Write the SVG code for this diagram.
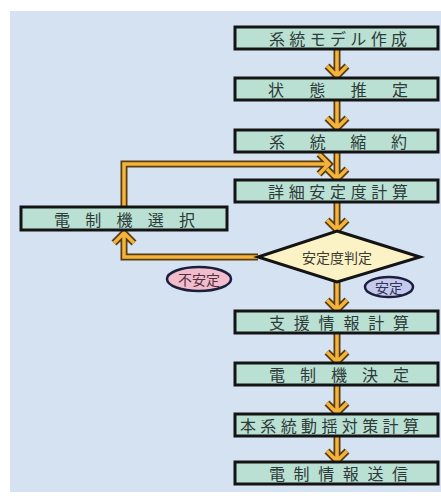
<svg xmlns="http://www.w3.org/2000/svg" width="441" height="500" viewBox="0 0 441 500">
<defs>
<style>
.box{fill:#b9e0d3;stroke:#141414;stroke-width:3}
.bt{font-family:"Noto Sans CJK JP","Noto Sans CJK SC",sans-serif;font-size:16px;fill:#2e3a38;text-anchor:start;dominant-baseline:central}
.dia{fill:#fbf2c6;stroke:#141414;stroke-width:3}
.out{fill:none;stroke:#5a3c12;stroke-width:7;stroke-linejoin:miter;stroke-linecap:butt}
.in{fill:none;stroke:#f4b43c;stroke-width:3.5;stroke-linejoin:miter;stroke-linecap:butt}
.lbl{font-family:"Noto Sans CJK JP","Noto Sans CJK SC",sans-serif;font-size:14px;text-anchor:middle;dominant-baseline:central}
</style>
</defs>
<rect x="0" y="0" width="441" height="500" fill="#ffffff"/>
<rect x="10" y="11" width="431" height="481" fill="#d5e2f2"/>

<g id="connectors">
<path class="out" d="M337 50V76M327 66L337 76L347 66"/>
<path class="out" d="M337 101V128M327 118L337 128L347 118"/>
<path class="out" d="M337 153V179M327 169L337 179L347 169"/>
<path class="out" d="M337 203V230M327 220L337 230L347 220"/>
<path class="out" d="M337 282V310M327 300L337 310L347 300"/>
<path class="out" d="M337 334V362M327 352L337 362L347 352"/>
<path class="out" d="M337 386V413M327 403L337 413L347 403"/>
<path class="out" d="M337 437V461M327 451L337 461L347 451"/>
<path class="out" d="M258 257H124V233M114 243L124 233L134 243"/>
<path class="out" d="M124 206V164H329M319 154L329 164L319 174"/>
<path class="in" d="M337 50V76M327 66L337 76L347 66"/>
<path class="in" d="M337 101V128M327 118L337 128L347 118"/>
<path class="in" d="M337 153V179M327 169L337 179L347 169"/>
<path class="in" d="M337 203V230M327 220L337 230L347 220"/>
<path class="in" d="M337 282V310M327 300L337 310L347 300"/>
<path class="in" d="M337 334V362M327 352L337 362L347 352"/>
<path class="in" d="M337 386V413M327 403L337 413L347 403"/>
<path class="in" d="M337 437V461M327 451L337 461L347 451"/>
<path class="in" d="M258 257H124V233M114 243L124 233L134 243"/>
<path class="in" d="M124 206V164H329M319 154L329 164L319 174"/>
</g>

<g id="n1"><rect class="box" x="235" y="27" width="203" height="22"/><text class="bt" x="269" y="38" textLength="138" lengthAdjust="spacing">系統モデル作成</text></g>
<g id="n2"><rect class="box" x="235" y="78" width="203" height="22"/><text class="bt" x="268" y="89" textLength="140" lengthAdjust="spacing">状態推定</text></g>
<g id="n3"><rect class="box" x="235" y="130" width="203" height="22"/><text class="bt" x="269" y="141" textLength="138" lengthAdjust="spacing">系統縮約</text></g>
<g id="n4"><rect class="box" x="235" y="180" width="203" height="22"/><text class="bt" x="268" y="191" textLength="140" lengthAdjust="spacing">詳細安定度計算</text></g>
<g id="n5"><rect class="box" x="21" y="207" width="206" height="23"/><text class="bt" x="54" y="218.5" textLength="141" lengthAdjust="spacing">電制機選択</text></g>
<g id="n6"><polygon class="dia" points="337,231 420,257 337,282 258,257"/><text class="lbl" x="337" y="257" font-size="16" fill="#3a3a30">安定度判定</text></g>
<g id="n7"><ellipse cx="199" cy="279" rx="32" ry="12" fill="#f1bccb" stroke="#1c1f3c" stroke-width="2.5"/><text class="lbl" x="199" y="279" fill="#503040">不安定</text></g>
<g id="n8"><ellipse cx="389" cy="287" rx="24" ry="10" fill="#c6c9ee" stroke="#1c1f3c" stroke-width="2.5"/><text class="lbl" x="389" y="287" fill="#303456">安定</text></g>
<g id="n9"><rect class="box" x="235" y="311" width="203" height="22"/><text class="bt" x="269" y="322" textLength="140" lengthAdjust="spacing">支援情報計算</text></g>
<g id="n10"><rect class="box" x="235" y="363" width="203" height="22"/><text class="bt" x="269" y="374" textLength="140" lengthAdjust="spacing">電制機決定</text></g>
<g id="n11"><rect class="box" x="235" y="414" width="203" height="22"/><text class="bt" x="240" y="425" textLength="179" lengthAdjust="spacing">本系統動揺対策計算</text></g>
<g id="n12"><rect class="box" x="235" y="462" width="203" height="22"/><text class="bt" x="269" y="473" textLength="139" lengthAdjust="spacing">電制情報送信</text></g>
</svg>
